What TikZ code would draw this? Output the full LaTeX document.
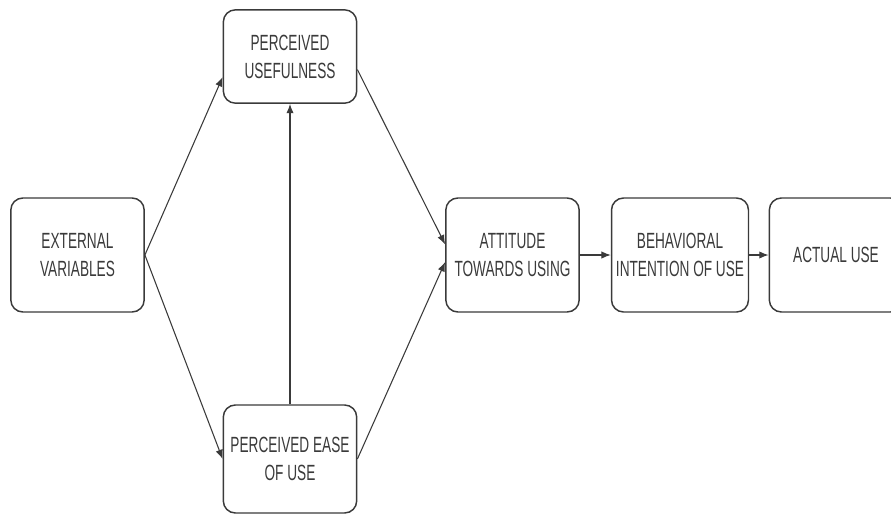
\documentclass[tikz,border=0pt]{standalone}
\usepackage{fontspec}
\setmainfont[FakeStretch=0.62]{Liberation Sans}
\usetikzlibrary{arrows.meta}
\definecolor{linegray}{HTML}{3A3A3A}
\begin{document}
\begin{tikzpicture}[x=0.75pt, y=-0.75pt,
    box/.style={rectangle, draw=linegray, line width=1.1pt, rounded corners=9pt,
      minimum width=100pt, text=linegray, align=center,
      font=\fontsize{16.5}{21}\selectfont},
    link/.style={draw=linegray, line width=0.8pt, -{Latex[length=7pt,width=5.5pt]}}]
  \useasboundingbox (0,0) rectangle (891,518);
  \clip (0,0) rectangle (891,518);
  % boxes
  \node[box, minimum height=85.5pt] (ext) at (77.5,255) {EXTERNAL\\VARIABLES};
  \node[box, minimum height=70pt] (pu) at (290,56.5) {PERCEIVED\\USEFULNESS};
  \node[box, minimum height=81pt] (peou) at (290,459) {PERCEIVED EASE\\OF USE};
  \node[box, minimum height=85.5pt] (att) at (512.5,255) {ATTITUDE\\TOWARDS USING};
  \node[box, minimum height=85.5pt] (bi) at (680,255) {BEHAVIORAL\\INTENTION OF USE};
  \node[box, minimum height=85.5pt] (au) at (836,255) {ACTUAL USE};
  % connectors
  \draw[link] (ext.east) -- (pu.197);
  \draw[link] (ext.east) -- (peou.west);
  \draw[link] (peou.north) -- (pu.south);
  \draw[link] (pu.-11) -- (att.171);
  \draw[link] (peou.east) -- (att.186);
  \draw[link] (att.east) -- (bi.west);
  \draw[link] (bi.east) -- (au.west);
\end{tikzpicture}
\end{document}
